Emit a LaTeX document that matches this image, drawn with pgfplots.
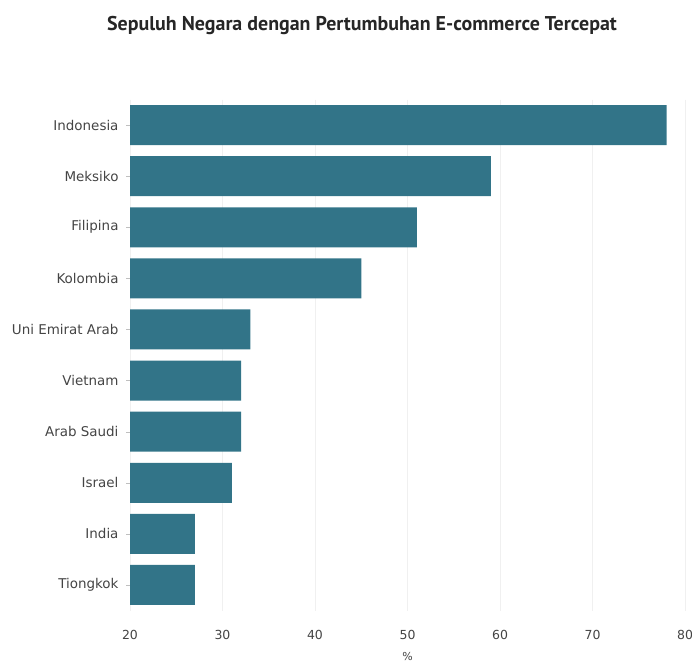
\documentclass[border=0pt]{standalone}
\usepackage{fontspec}
\setmainfont{DejaVu Sans}
\newfontfamily\titlefont{PT Sans}
\usepackage{pgfplots}
\pgfplotsset{compat=1.18}
\definecolor{barc}{RGB}{50,116,136}
\definecolor{txt}{RGB}{68,68,68}
\begin{document}
\begin{tikzpicture}
\path[use as bounding box] (0,0) rectangle (692bp,-662bp);
\node[font=\titlefont\bfseries\fontsize{20}{24}\selectfont, text=black!85] at (362bp,-25bp) {Sepuluh Negara dengan Pertumbuhan E-commerce Tercepat};
\begin{axis}[at={(130bp,-99.5bp)}, anchor=north west, scale only axis, width=555bp, height=511bp,
 xmin=20,xmax=80, ymin=-0.5,ymax=9.5, y dir=reverse,
 xbar, bar width=40bp,
 ytick={0,...,9}, yticklabels={Indonesia,Meksiko,Filipina,Kolombia,Uni Emirat Arab,Vietnam,Arab Saudi,Israel,India,Tiongkok},
 xtick={20,30,...,80},
 ytick pos=left,
 axis line style={draw=none},
 xmajorgrids, grid style={black!6, line width=0.8pt},
 tick align=outside, major tick length=4bp,
 xtick style={draw=none}, ytick style={black!25},
 xticklabel style={font=\fontsize{12.5}{14}\selectfont, text=txt, yshift=-12bp},
 yticklabel style={font=\fontsize{13.5}{15}\selectfont, text=txt, xshift=-4bp},
 /pgf/number format/assume math mode=true,
 xlabel={\%}, xlabel style={font=\fontsize{11}{13}\selectfont, text=txt, yshift=-6bp},
]
\addplot[fill=barc, draw=none] coordinates {(78,0) (59,1) (51,2) (45,3) (33,4) (32,5) (32,6) (31,7) (27,8) (27,9)};
\end{axis}
\end{tikzpicture}
\end{document}
